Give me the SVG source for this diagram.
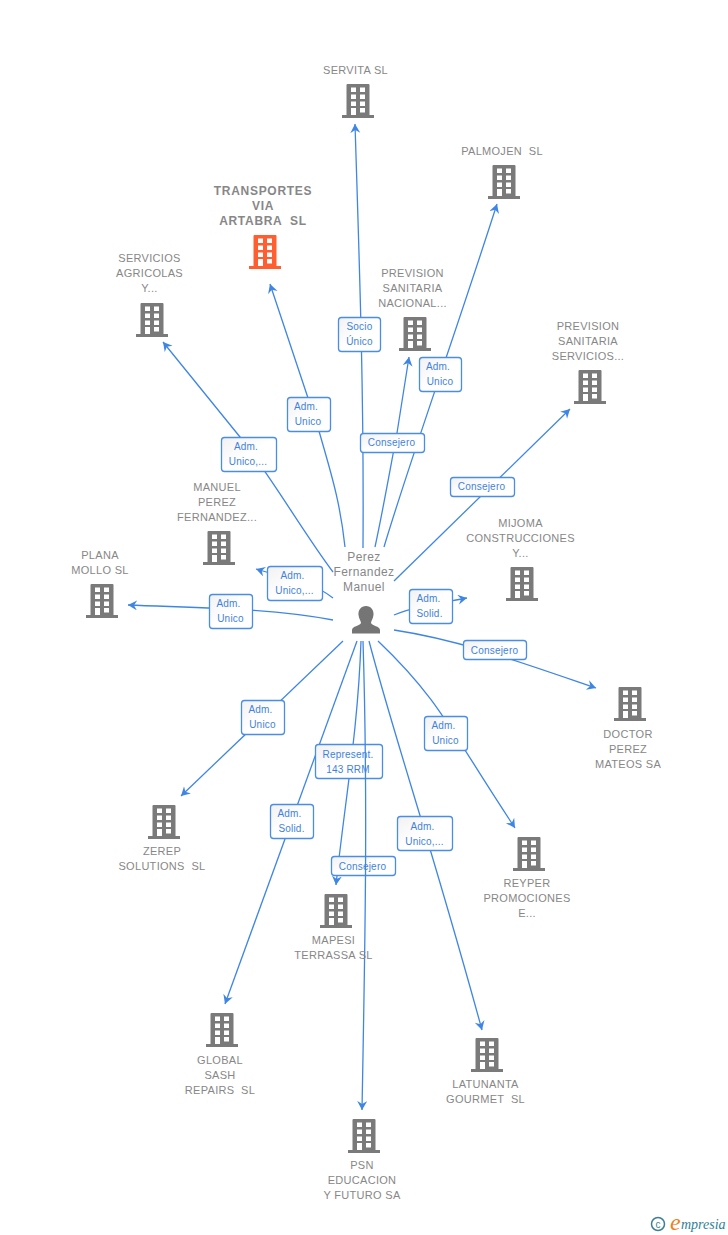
<svg xmlns="http://www.w3.org/2000/svg" width="728" height="1235" viewBox="0 0 728 1235">
<style>
text{font-family:"Liberation Sans",Arial,sans-serif}
.n{font-size:11px;fill:#878787;text-anchor:middle;white-space:pre;letter-spacing:.3px}
.t{font-size:12px;font-weight:bold;fill:#878787;text-anchor:middle;letter-spacing:.7px;white-space:pre}
.p{font-size:12px;fill:#878787;text-anchor:middle;letter-spacing:.4px}
.l{font-size:10px;fill:#3f82dc;text-anchor:middle;letter-spacing:.2px}
.b{fill:url(#g);stroke:#4a8de6;stroke-width:1.3}
.c path{fill:none;stroke:#3f86e4;stroke-width:1.3;marker-end:url(#a)}
.bg{fill:#7a7a7a}
.og{fill:#ff5f30}
.e{font-family:"Liberation Serif",serif;font-style:italic}
</style>
<defs>
<linearGradient id="g" x1="0" y1="0" x2="1" y2="1"><stop offset="0" stop-color="#f1f1f1"/><stop offset=".5" stop-color="#fff"/><stop offset="1" stop-color="#fff"/></linearGradient>
<marker id="a" markerUnits="userSpaceOnUse" markerWidth="12" markerHeight="12" refX="9" refY="5" orient="auto"><path d="M0,0 L9,5 L0,10 L3,5Z" fill="#3f86e4"/></marker>
<path id="ico" fill-rule="evenodd" d="M5.500,0H26.500Q27.500,0 27.500,1V31H32V34H0V31H4.500V1Q4.500,0 5.500,0ZM9,3.500V8H14V3.500ZM18,3.500V8H23V3.500ZM9,10.500V15H14V10.500ZM18,10.500V15H23V10.500ZM9,17.500V22H14V17.500ZM18,17.500V22H23V17.500ZM9,24V31H14V24ZM18,24V28.500H23V24Z"/>
</defs>
<rect width="728" height="1235" fill="#fff"/>
<g id="connectors" class="c">
<path d="M363,548C364,400 360,280 355,124"/>
<path d="M384,547C410,460 450,350 497,204"/>
<path d="M345,547C340,500 330,470 319,431L270,284"/>
<path d="M333,572C305,535 272,478 240,437L163,342"/>
<path d="M375,547C383,510 390,470 397,433L409,357"/>
<path d="M394,581L570,409"/>
<path d="M333,598C310,580 285,578 256,569"/>
<path d="M333,620C270,608 200,608 128,605"/>
<path d="M394,615C415,606 440,603 467,598"/>
<path d="M394,630C460,640 520,662 596,688"/>
<path d="M343,641L181,796"/>
<path d="M378,641C440,700 450,730 515,828"/>
<path d="M361,641C358,730 345,800 336,885"/>
<path d="M357,641L225,1004"/>
<path d="M369,641C395,740 430,840 482,1030"/>
</g>
<g id="labels">
<g id="l-socio"><rect class="b" x="338.500" y="317.500" width="42" height="34" rx="3"/><text class="l" x="359.500" y="330">Socio</text><text class="l" x="359.500" y="345">Único</text></g>
<g id="l-palmojen"><rect class="b" x="419.500" y="357.500" width="42" height="34" rx="3"/><text class="l" x="438" y="370">Adm.</text><text class="l" x="440" y="385">Unico</text></g>
<g id="l-transportes"><rect class="b" x="287.500" y="397.500" width="43" height="34" rx="3"/><text class="l" x="306" y="410">Adm.</text><text class="l" x="308" y="425">Unico</text></g>
<g id="l-previsionnac"><rect class="b" x="360.500" y="433.500" width="64" height="19" rx="3"/><text class="l" x="391.500" y="446">Consejero</text></g>
<g id="l-servicios"><rect class="b" x="221.500" y="437.500" width="55" height="34" rx="3"/><text class="l" x="246" y="450">Adm.</text><text class="l" x="248" y="465">Unico,...</text></g>
<g id="l-previsionserv"><rect class="b" x="450.500" y="477.500" width="64" height="19" rx="3"/><text class="l" x="481.500" y="490">Consejero</text></g>
<g id="l-manuel"><rect class="b" x="267.500" y="566.500" width="55" height="34" rx="3"/><text class="l" x="292.500" y="579">Adm.</text><text class="l" x="294.500" y="594">Unico,...</text></g>
<g id="l-plana"><rect class="b" x="209.500" y="594.500" width="43" height="34" rx="3"/><text class="l" x="228.500" y="607">Adm.</text><text class="l" x="230.500" y="622">Unico</text></g>
<g id="l-mijoma"><rect class="b" x="409.500" y="589.500" width="43" height="34" rx="3"/><text class="l" x="428.500" y="602">Adm.</text><text class="l" x="429.500" y="617">Solid.</text></g>
<g id="l-doctor"><rect class="b" x="463.500" y="640.500" width="63" height="19" rx="3"/><text class="l" x="494.500" y="654">Consejero</text></g>
<g id="l-zerep"><rect class="b" x="241.500" y="700.500" width="43" height="34" rx="3"/><text class="l" x="260.500" y="713">Adm.</text><text class="l" x="262.500" y="728">Unico</text></g>
<g id="l-reyper"><rect class="b" x="424.500" y="716.500" width="43" height="34" rx="3"/><text class="l" x="443.500" y="729">Adm.</text><text class="l" x="445.500" y="744">Unico</text></g>
<g id="l-mapesi"><rect class="b" x="315.500" y="744.500" width="67" height="34" rx="3"/><text class="l" x="348" y="758">Represent.</text><text class="l" x="348" y="773">143 RRM</text></g>
<g id="l-global"><rect class="b" x="270.500" y="804.500" width="43" height="34" rx="3"/><text class="l" x="289.500" y="817">Adm.</text><text class="l" x="291.500" y="832">Solid.</text></g>
<g id="l-latunanta"><rect class="b" x="397.500" y="816.500" width="55" height="34" rx="3"/><text class="l" x="422.500" y="830">Adm.</text><text class="l" x="424.500" y="845">Unico,...</text></g>
<g id="l-psn"><rect class="b" x="331.500" y="856.500" width="64" height="19" rx="3"/><text class="l" x="362.500" y="870">Consejero</text></g>
</g>
<g id="connector-psn" class="c"><path d="M363,641C368,800 365,950 362,1110"/></g>
<g id="n-servita"><use href="#ico" class="bg" x="342" y="84"/><text class="n" x="355.500" y="74">SERVITA SL</text></g>
<g id="n-palmojen"><use href="#ico" class="bg" x="488" y="165"/><text class="n" x="502" y="155">PALMOJEN  SL</text></g>
<g id="n-transportes"><use href="#ico" class="og" x="249" y="235"/><text class="t" x="263" y="195">TRANSPORTES</text><text class="t" x="263" y="210">VIA</text><text class="t" x="263" y="225">ARTABRA  SL</text></g>
<g id="n-servicios"><use href="#ico" class="bg" x="136" y="303"/><text class="n" x="149.500" y="262">SERVICIOS</text><text class="n" x="149.500" y="277">AGRICOLAS</text><text class="n" x="149.500" y="292">Y...</text></g>
<g id="n-previsionnac"><use href="#ico" class="bg" x="399" y="317"/><text class="n" x="412.500" y="277">PREVISION</text><text class="n" x="412.500" y="292">SANITARIA</text><text class="n" x="412.500" y="307">NACIONAL...</text></g>
<g id="n-previsionserv"><use href="#ico" class="bg" x="574" y="370"/><text class="n" x="588" y="330">PREVISION</text><text class="n" x="588" y="345">SANITARIA</text><text class="n" x="588" y="360">SERVICIOS...</text></g>
<g id="n-manuel"><use href="#ico" class="bg" x="203" y="531"/><text class="n" x="217" y="491">MANUEL</text><text class="n" x="217" y="506">PEREZ</text><text class="n" x="217" y="521">FERNANDEZ...</text></g>
<g id="n-plana"><use href="#ico" class="bg" x="86" y="584"/><text class="n" x="100" y="559">PLANA</text><text class="n" x="100" y="574">MOLLO SL</text></g>
<g id="n-mijoma"><use href="#ico" class="bg" x="506" y="567"/><text class="n" x="520.500" y="527">MIJOMA</text><text class="n" x="520.500" y="542">CONSTRUCCIONES</text><text class="n" x="520.500" y="557">Y...</text></g>
<g id="n-doctor"><use href="#ico" class="bg" x="614" y="687"/><text class="n" x="628" y="738">DOCTOR</text><text class="n" x="628" y="753">PEREZ</text><text class="n" x="628" y="768">MATEOS SA</text></g>
<g id="n-zerep"><use href="#ico" class="bg" x="148" y="805"/><text class="n" x="162" y="855">ZEREP</text><text class="n" x="162" y="870">SOLUTIONS  SL</text></g>
<g id="n-reyper"><use href="#ico" class="bg" x="513" y="837"/><text class="n" x="527" y="887">REYPER</text><text class="n" x="527" y="902">PROMOCIONES</text><text class="n" x="527" y="917">E...</text></g>
<g id="n-mapesi"><use href="#ico" class="bg" x="320" y="894"/><text class="n" x="333.500" y="944">MAPESI</text><text class="n" x="333.500" y="959">TERRASSA SL</text></g>
<g id="n-global"><use href="#ico" class="bg" x="206" y="1013"/><text class="n" x="220" y="1064">GLOBAL</text><text class="n" x="220" y="1079">SASH</text><text class="n" x="220" y="1094">REPAIRS  SL</text></g>
<g id="n-latunanta"><use href="#ico" class="bg" x="471" y="1038"/><text class="n" x="485.500" y="1088">LATUNANTA</text><text class="n" x="485.500" y="1103">GOURMET  SL</text></g>
<g id="n-psn"><use href="#ico" class="bg" x="348" y="1119"/><text class="n" x="362" y="1169">PSN</text><text class="n" x="362" y="1184">EDUCACION</text><text class="n" x="362" y="1199">Y FUTURO SA</text></g>
<g id="n-person"><text class="p" x="364" y="561">Perez</text><text class="p" x="364" y="576">Fernandez</text><text class="p" x="364" y="591">Manuel</text>
<path fill="#757575" d="M366,606C371,606 374,610 373.500,615C373,619 371,621 371,623C372,626 380,626 380,630V633.500H352V630C352,626 360,626 361,623C361,621 359,619 358.500,615C358,610 361,606 366,606Z"/></g>
<g id="logo"><circle cx="658" cy="1224" r="6.500" fill="none" stroke="#3e7f96" stroke-width="1.500"/><text x="658" y="1227.500" font-size="10" text-anchor="middle" fill="#3e7f96">c</text>
<text class="e" x="670" y="1230" font-size="24" fill="#f07f1c">e</text><text class="e" x="681" y="1229" font-size="14" fill="#2f7f96">mpresia</text></g>
</svg>
